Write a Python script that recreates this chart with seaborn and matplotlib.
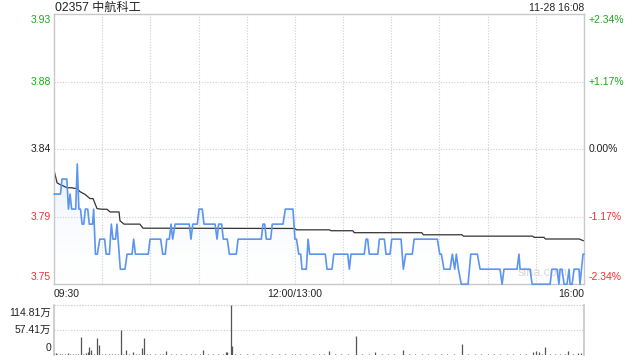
import numpy as np
import pandas as pd
import matplotlib
matplotlib.use("Agg")
import matplotlib.pyplot as plt
import seaborn as sns
from matplotlib.patches import Polygon
from matplotlib.colors import LinearSegmentedColormap

# ---------------- data ----------------
title = "02357 中航科工"
stamp = "11-28 16:08"
prev_close = 3.84
price_labels = ["3.93", "3.88", "3.84", "3.79", "3.75"]
pct_labels = ["+2.34%", "+1.17%", "0.00%", "-1.17%", "-2.34%"]
time_labels = ["09:30", "12:00/13:00", "16:00"]
vol_labels = ["114.81万", "57.41万", "0"]
vol_max = 114.81

# minutes since 09:30 (lunch break removed) and price
price_t = [0, 4, 5, 8, 9, 10, 11, 13.5, 14.5, 15.5, 16.5, 17.5, 18.5, 19.5, 21, 22, 24, 24.7,
           25.8, 27, 28.5, 31.5, 32.5, 34.5, 35.7, 36.7, 38.3, 39.2, 41.3, 44.2, 45.5, 48.6,
           49.6, 50.7, 58.7, 59.8, 66.4, 67.7, 69.3, 70.2, 71.8, 72.9, 73.9, 75.4, 84.2, 85.3,
           86.4, 89.2, 90.3, 92.3, 93.4, 100.3, 101.5, 102.5, 104.4, 105.4, 107.9, 109.2, 113.5,
           114.6, 129.1, 130.1, 131.2, 132.2, 134.9, 135.9, 142.6, 144, 148.8, 150, 151, 152.4,
           153.6, 154.4, 157.1, 158.2, 159.2, 168.9, 170, 173.1, 174.2, 182.9, 183.9, 184.9,
           193.2, 194.3, 195.3, 196.3, 201.6, 202.6, 205.7, 206.7, 209.2, 210.3, 216.1, 217.5,
           219, 223.1, 224.2, 238.7, 240.2, 241.2, 242.8, 246.6, 248, 249.5, 250.5, 251.8,
           253.6, 257.8, 259.5, 263.6, 265.3, 277.7, 279, 280.2, 288.3, 289.5, 290.2, 296.4,
           297.7, 308.9, 310, 313.2, 314.4, 315.1, 316.3, 317.6, 319.4, 320.7, 321.3, 322.6,
           323.8, 326.9, 327.5, 329.4, 330]
price_v = [3.81, 3.81, 3.82, 3.82, 3.80, 3.81, 3.80, 3.80, 3.83, 3.80, 3.80, 3.79, 3.79, 3.80,
           3.80, 3.79, 3.79, 3.80,
           3.77, 3.77, 3.78, 3.78, 3.77, 3.77, 3.79, 3.78, 3.78, 3.79, 3.76, 3.76, 3.77, 3.77,
           3.78, 3.77, 3.77, 3.78, 3.78, 3.77, 3.77, 3.78, 3.78, 3.79, 3.78, 3.79, 3.79, 3.78,
           3.79, 3.79, 3.80, 3.80, 3.79, 3.79, 3.78, 3.79, 3.79, 3.78, 3.78, 3.77, 3.77,
           3.78, 3.78, 3.79, 3.79, 3.78, 3.78, 3.79, 3.79, 3.80, 3.80, 3.78, 3.78, 3.77,
           3.77, 3.76, 3.76, 3.78, 3.77, 3.77, 3.76, 3.76, 3.77, 3.77, 3.76, 3.77,
           3.77, 3.78, 3.78, 3.77, 3.77, 3.78, 3.78, 3.77, 3.77, 3.78, 3.78, 3.76,
           3.77, 3.77, 3.78, 3.78, 3.77, 3.77, 3.76, 3.76, 3.77, 3.76, 3.77, 3.76,
           3.75, 3.75, 3.77, 3.77, 3.76, 3.76, 3.75, 3.76, 3.76, 3.77, 3.76, 3.76,
           3.75, 3.75, 3.76, 3.76, 3.75, 3.76, 3.76, 3.75, 3.75, 3.76, 3.75, 3.75,
           3.76, 3.76, 3.75, 3.77, 3.77]

avg_t = [0, 1.9, 3.7, 6, 8, 11.2, 12.5, 14.3, 16.2, 19.3, 22.4, 24.3, 26.8, 29.9, 33, 34.9,
         40.5, 41.1, 43.6, 53.5, 55.4, 150, 151, 171.5, 172.5, 186, 187, 229, 230, 254, 255,
         298, 299, 305, 306, 327, 329.5, 330]
avg_v = [3.826, 3.8175, 3.8164, 3.8153, 3.8142, 3.8142, 3.8138, 3.8138, 3.8116, 3.8098,
         3.807, 3.807, 3.8003, 3.7999, 3.7999, 3.7981, 3.7981, 3.7922, 3.790, 3.790, 3.7873,
         3.7871, 3.7862, 3.7862, 3.7856, 3.7856, 3.7843, 3.7843, 3.7829, 3.7829, 3.782,
         3.782, 3.7812, 3.7812, 3.7801, 3.7801, 3.779, 3.779]

vol_t = [0, 1, 2, 4, 5, 7, 9, 10, 12, 14, 15, 17, 18, 20, 21, 22, 23, 25, 27, 28,
         30, 32, 34, 36, 38, 40, 42, 43, 45, 47, 49, 51, 53, 55, 56, 58, 60, 63, 66, 68,
         70, 73, 76, 79, 82, 85, 88, 91, 93, 96, 99, 102, 105, 107, 108, 110, 111, 113, 116, 120,
         124, 128, 132, 136, 140, 144, 148, 150, 153, 157, 161, 165, 168, 171, 175, 179, 183, 188, 192, 196,
         200, 204, 208, 212, 217, 221, 225, 229, 233, 237, 241, 245, 249, 254, 258, 262, 266, 270, 274, 278,
         282, 286, 290, 294, 298, 300, 302, 304, 306, 309, 312, 315, 318, 320, 323, 326, 328, 330]
vol_v = [5, 4, 3, 2, 3, 2, 4, 3, 2, 3, 2, 42, 3, 4, 7, 17.6, 11, 3, 40, 23,
         3, 2, 2, 3, 2, 2, 57.4, 3, 11.5, 3, 7, 2, 2, 16, 40, 2, 1.5, 2, 1.5, 2,
         9, 2, 1.5, 3, 2, 2, 1.5, 2, 11.5, 2, 1.5, 2, 3, 6, 8, 114.81, 20.7, 3, 1.5, 2,
         1.5, 2, 1.5, 2, 1.5, 2, 1.5, 2, 1.5, 2, 1.5, 2, 2, 9, 2, 1.5, 2, 44.4, 2, 1.5,
         6, 2, 1.5, 2, 11.5, 2, 1.5, 2, 1.5, 2, 1.5, 2, 1.5, 25, 2, 1.5, 2, 1.5, 2, 1.5,
         2, 2, 1.5, 2, 8, 10, 6, 3, 17.6, 3, 2, 2, 3, 9, 3, 5, 4, 28]

# ---------------- style ----------------
sns.set_theme(style="white")
plt.rcParams["font.family"] = ["Liberation Sans", "Noto Sans CJK SC", "DejaVu Sans"]

W, H = 640, 360
GREEN = "#1fa51f"
RED = "#f03030"
DARK = "#222222"
GRID = "#cfcfcf"
BLUE = "#5b95f0"

fig = plt.figure(figsize=(6.4, 3.6), dpi=100)


def rect(x0, y0, x1, y1):
    return [x0 / W, 1 - y1 / H, (x1 - x0) / W, (y1 - y0) / H]


def ftext(x, y, s, **kw):
    fig.text(x / W, 1 - y / H, s, **kw)


ymin = prev_close * (1 - 0.0234)
ymax = prev_close * (1 + 0.0234)
levels = [ymax, prev_close * (1 + 0.0117), prev_close, prev_close * (1 - 0.0117), ymin]

ax = fig.add_axes(rect(54, 14, 584, 284))
axv = fig.add_axes(rect(54, 305, 584, 355))

price_df = pd.DataFrame({"t": price_t, "p": price_v})
avg_df = pd.DataFrame({"t": avg_t, "p": avg_v})

# gradient fill under price line
verts = list(zip(price_t, price_v)) + [(price_t[-1], ymin), (price_t[0], ymin)]
poly = Polygon(verts, closed=True, facecolor="none", edgecolor="none")
ax.add_patch(poly)
cmap = LinearSegmentedColormap.from_list("g", [(1, 1, 1, 0), (0.36, 0.58, 0.94, 0.16)])
grad = np.linspace(1, 0, 256).reshape(-1, 1)
im = ax.imshow(grad, extent=[0, 330, ymin, max(price_v)], aspect="auto", cmap=cmap,
               origin="upper", zorder=1, interpolation="bilinear")
im.set_clip_path(poly)

sns.lineplot(data=price_df, x="t", y="p", ax=ax, color=BLUE, lw=1.2, estimator=None,
             sort=False, zorder=3, clip_on=False)
sns.lineplot(data=avg_df, x="t", y="p", ax=ax, color="#333333", lw=0.9, estimator=None,
             sort=False, zorder=2)

ax.set_xlim(0, 330)
ax.set_ylim(ymin, ymax)
ax.set_xlabel("")
ax.set_ylabel("")
ax.set_xticks(range(30, 330, 30))
ax.set_yticks(levels[1:4])
ax.tick_params(left=False, bottom=False, labelleft=False, labelbottom=False)
ax.grid(True, linestyle=(0, (1, 1.5)), color=GRID, lw=0.8)
for s in ax.spines.values():
    s.set_color("#c8c8c8")
    s.set_linewidth(1)

ax.text(0.97, 0.02, "sina.com", transform=ax.transAxes, ha="right", va="bottom",
        color="#d9d9d9", fontsize=9, zorder=0)

# volume panel
axv.vlines(vol_t, 0, vol_v, color="#555555", lw=0.9)
axv.set_xlim(0, 330)
axv.set_ylim(0, vol_max)
axv.set_xticks([])
axv.set_yticks([vol_max / 2, vol_max])
axv.tick_params(left=False, bottom=False, labelleft=False, labelbottom=False)
axv.grid(True, axis="y", linestyle=(0, (1, 1.5)), color=GRID, lw=0.8)
axv.spines["top"].set_visible(False)
axv.spines["bottom"].set_visible(False)
for k in ("left", "right"):
    axv.spines[k].set_color("#c8c8c8")
axv.axhline(vol_max, color=GRID, lw=0.8, linestyle=(0, (1, 1.5)), clip_on=False)

# ---------------- texts ----------------
fs = 7.5
ftext(55, 8, title, fontsize=8.7, color=DARK, ha="left", va="center")
ftext(584, 8, stamp, fontsize=fs, color=DARK, ha="right", va="center")

label_y = [20, 82, 149, 216.5, 277]
label_c = [GREEN, GREEN, DARK, RED, RED]
for yy, pl, pc, c in zip(label_y, price_labels, pct_labels, label_c):
    ftext(51, yy, pl, fontsize=fs, color=c, ha="right", va="center")
    ftext(589, yy, pc, fontsize=fs, color=c, ha="left", va="center")

ftext(54, 294, time_labels[0], fontsize=fs, color=DARK, ha="left", va="center")
ftext(295, 294, time_labels[1], fontsize=fs, color=DARK, ha="center", va="center")
ftext(584, 294, time_labels[2], fontsize=fs, color=DARK, ha="right", va="center")

for yy, vl in zip([313, 330, 348], vol_labels):
    ftext(51, yy, vl, fontsize=fs, color=DARK, ha="right", va="center")

fig.savefig("out.png", dpi=100)
